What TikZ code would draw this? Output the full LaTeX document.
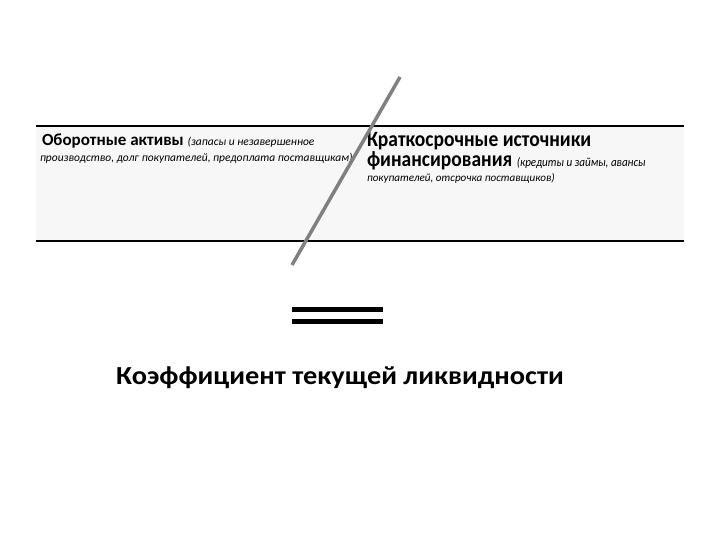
\documentclass[tikz,border=0pt]{standalone}
\usepackage{fontspec}
\setmainfont{Carlito}
\begin{document}
\begin{tikzpicture}[x=1pt,y=-1pt,
  txt/.style={anchor=base west,inner sep=0pt,outer sep=0pt},
  tall/.style={txt,yscale=1.12,transform shape},
  rule/.style={line width=1.2pt,black},
  bar/.style={line width=5.5pt,black}]
\useasboundingbox[fill=white] (0,0) rectangle (720,540);
\fill[black!3] (36,126) rectangle (684,241);
\draw[rule] (36,126) -- (684,126);
\draw[rule] (36,241) -- (684,241);
\node[txt] (l1) at (42,146) {\fontsize{17}{20}\selectfont\bfseries Оборотные активы \fontsize{11.5}{13}\selectfont\mdseries\itshape (запасы и незавершенное};
\node[txt] (l2) at (40,162) {\fontsize{11.5}{13}\selectfont\itshape производство, долг покупателей, предоплата поставщикам)};
\node[tall] (r1) at (367,146.5) {\fontsize{19.5}{23}\selectfont\bfseries Краткосрочные источники};
\node[tall] (r2) at (367,167) {\fontsize{19.5}{23}\selectfont\bfseries финансирования \fontsize{11.1}{13}\selectfont\mdseries\itshape (кредиты и займы, авансы};
\node[txt] (r3) at (367,182) {\fontsize{11.1}{13}\selectfont\itshape покупателей, отсрочка поставщиков)};
\coordinate (s1) at (400,77);
\coordinate (s2) at (292,265);
\draw[line width=3.5pt,black!50] (s1) -- (s2);
\coordinate (e1) at (292,309.5);
\coordinate (e2) at (383,309.5);
\coordinate (e3) at (292,321.7);
\coordinate (e4) at (383,321.7);
\draw[bar] (e1) -- (e2);
\draw[bar] (e3) -- (e4);
\node[anchor=base,inner sep=0pt,xscale=1.09,transform shape] (k) at (340,384) {\fontsize{26}{30}\selectfont\bfseries Коэффициент текущей ликвидности};
\end{tikzpicture}
\end{document}
